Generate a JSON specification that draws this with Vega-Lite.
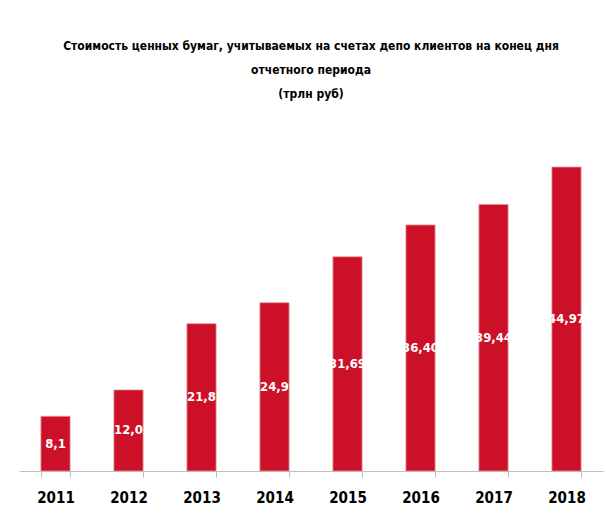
{
  "$schema": "https://vega.github.io/schema/vega-lite/v6.json",
  "width": 584,
  "height": 338,
  "autosize": {"type": "none"},
  "padding": {"left": 19, "top": 133, "right": 3, "bottom": 46},
  "title": {
    "text": ["Стоимость ценных бумаг, учитываемых на счетах депо клиентов на конец дня", "отчетного периода", "(трлн руб)"],
    "fontSize": 12,
    "font": "DejaVu Sans Condensed",
    "fontWeight": "bold",
    "lineHeight": 24,
    "offset": 32,
    "anchor": "middle",
    "color": "#000000"
  },
  "data": {
    "values": [
      {"year": "2011", "value": 8.1, "label": "8,1"},
      {"year": "2012", "value": 12.0, "label": "12,0"},
      {"year": "2013", "value": 21.8, "label": "21,8"},
      {"year": "2014", "value": 24.9, "label": "24,9"},
      {"year": "2015", "value": 31.69, "label": "31,69"},
      {"year": "2016", "value": 36.40, "label": "36,40"},
      {"year": "2017", "value": 39.44, "label": "39,44"},
      {"year": "2018", "value": 44.97, "label": "44,97"}
    ]
  },
  "encoding": {
    "x": {
      "field": "year",
      "type": "ordinal",
      "scale": {"paddingInner": 0.6, "paddingOuter": 0.3},
      "axis": {
        "title": null,
        "labelAngle": 0,
        "labelFont": "DejaVu Sans Condensed",
        "labelFontSize": 15,
        "labelFontWeight": "bold",
        "labelColor": "#000000",
        "labelPadding": 13,
        "domainColor": "#BFBFBF",
        "tickColor": "#BFBFBF",
        "tickSize": 6,
        "tickBand": "extent",
        "grid": false
      }
    }
  },
  "layer": [
    {
      "mark": {"type": "bar", "color": "#CC1027", "stroke": "#E79AA5", "strokeWidth": 0.8},
      "encoding": {
        "y": {"field": "value", "type": "quantitative", "scale": {"domain": [0, 50]}, "axis": null}
      }
    },
    {
      "mark": {"type": "text", "color": "#FFFFFF", "font": "DejaVu Sans Condensed", "fontWeight": "bold", "fontSize": 13, "baseline": "middle", "align": "center"},
      "encoding": {
        "y": {"field": "value", "type": "quantitative", "scale": {"domain": [0, 100]}, "axis": null},
        "text": {"field": "label"}
      }
    }
  ],
  "resolve": {"scale": {"y": "independent"}},
  "config": {"view": {"stroke": null}}
}
